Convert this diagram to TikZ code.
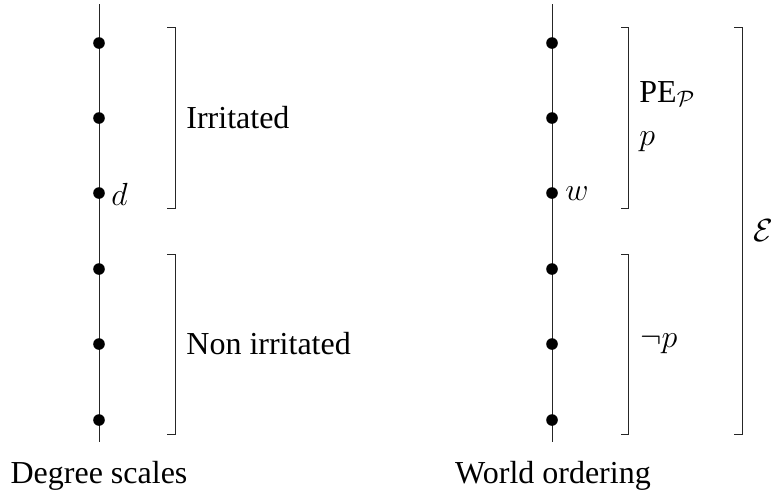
\RequirePackage{fix-cm}
\documentclass[tikz,border=0pt]{standalone}
\usepackage{fontspec}
\setmainfont{Liberation Serif}
\begin{document}
\fontsize{16}{19}\selectfont
\begin{tikzpicture}[x=0.5pt,y=-0.5pt,
  dot/.style={circle,fill=black,inner sep=0pt,minimum size=5.8pt},
  axisline/.style={line width=0.5pt,black!85},
  bracket/.style={line width=0.5pt,black!85},
  lbl/.style={inner sep=0pt,font=\fontsize{16}{19}\selectfont}]
\useasboundingbox (0,0) rectangle (771,495);
% left axis
\coordinate (lt) at (99,4);
\coordinate (lb) at (99,442);
\draw[axisline] (lt) -- (lb);
\node[dot] (l1) at (99,43) {};
\node[dot] (l2) at (99,118) {};
\node[dot] (l3) at (99,193) {};
\node[dot] (l4) at (99,269) {};
\node[dot] (l5) at (99,344) {};
\node[dot] (l6) at (99,420) {};
\draw[bracket] (167,27) -- (175,27) -- (175,208) -- (167,208);
\draw[bracket] (167,254) -- (175,254) -- (175,434) -- (167,434);
\node[lbl,anchor=west] (irr) at (186,118) {Irritated};
\node[lbl,anchor=west] (nirr) at (186,344) {Non irritated};
\node[lbl,anchor=west] (d) at (111,194) {$d$};
\node[lbl,anchor=base] (deg) at (99,483) {Degree scales};
% right axis
\coordinate (rt) at (552,4);
\coordinate (rb) at (552,442);
\draw[axisline] (rt) -- (rb);
\node[dot] (r1) at (552,43) {};
\node[dot] (r2) at (552,118) {};
\node[dot] (r3) at (552,193) {};
\node[dot] (r4) at (552,269) {};
\node[dot] (r5) at (552,344) {};
\node[dot] (r6) at (552,420) {};
\draw[bracket] (621,27) -- (628,27) -- (628,208) -- (621,208);
\draw[bracket] (621,254) -- (628,254) -- (628,434) -- (621,434);
\draw[bracket] (734,27) -- (742,27) -- (742,434) -- (734,434);
\node[lbl,anchor=base west] (pe) at (639,102) {PE$_{\mathcal{P}}$};
\node[lbl,anchor=base west] (p) at (639,145) {$p$};
\node[lbl,anchor=west] (np) at (640,344) {$\neg p$};
\node[lbl,anchor=west] (w) at (565,194) {$w$};
\node[lbl,anchor=west] (E) at (753,231) {$\mathcal{E}$};
\node[lbl,anchor=base] (wo) at (553,483) {World ordering};
\end{tikzpicture}
\end{document}
